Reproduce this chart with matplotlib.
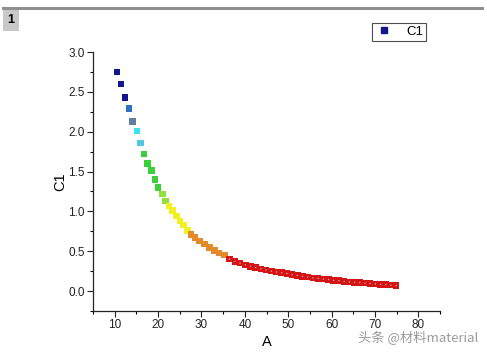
import matplotlib
matplotlib.use("Agg")
import matplotlib.pyplot as plt
from matplotlib.colors import ListedColormap, BoundaryNorm
from matplotlib.lines import Line2D
import numpy as np

plt.rcParams['font.family'] = ['Liberation Sans', 'Noto Sans CJK SC', 'DejaVu Sans']

# Data
A = [10.5, 11.4, 12.4, 13.3, 14.1, 15.1, 15.9, 16.7, 17.6, 18.5, 19.3, 20.0,
     21.0, 21.7, 22.5, 23.3, 24.2, 25.1, 25.9, 26.8, 27.6, 28.5, 29.5, 30.7,
     31.8, 33.0, 34.1, 35.3,
     36.5, 37.7, 38.9, 40.1, 41.3, 42.5, 43.7, 44.9, 46.1, 47.3, 48.5, 49.7,
     50.9, 52.1, 53.3, 54.5, 55.7, 56.9, 58.1, 59.3, 60.5, 61.7, 62.9, 64.1,
     65.3, 66.5, 67.7, 68.9, 70.1, 71.3, 72.5, 73.7, 74.9]
C1 = [2.75, 2.60, 2.43, 2.29, 2.13, 2.01, 1.86, 1.72, 1.60, 1.51, 1.40, 1.30,
      1.22, 1.13, 1.07, 1.01, 0.94, 0.88, 0.83, 0.76, 0.71, 0.67, 0.63, 0.59,
      0.55, 0.51, 0.48, 0.45,
      0.40, 0.37, 0.35, 0.33, 0.31, 0.295, 0.28, 0.265, 0.25, 0.24, 0.23, 0.22,
      0.205, 0.195, 0.185, 0.175, 0.165, 0.16, 0.15, 0.145, 0.135, 0.13, 0.12, 0.115,
      0.11, 0.105, 0.10, 0.095, 0.09, 0.085, 0.08, 0.075, 0.07]

x_ticks = [10, 20, 30, 40, 50, 60, 70, 80]
y_ticks = [0.0, 0.5, 1.0, 1.5, 2.0, 2.5, 3.0]

level_bounds = [0.0, 0.42, 0.74, 1.08, 1.25, 1.78, 1.95, 2.05, 2.2, 2.35, 3.0]
level_colors = ['#d41515', '#e38a2a', '#f2f01e', '#8fe03a', '#3ccf3c', '#52c8e0',
                '#3fe3f0', '#5f7fa0', '#2f74c4', '#14148c']
cmap = ListedColormap(level_colors)
norm = BoundaryNorm(level_bounds, cmap.N)

fig = plt.figure(figsize=(4.87, 3.54), dpi=100)
ax = fig.add_axes([0.191, 0.1215, 0.7125, 0.7315])

ax.scatter(A, C1, c=C1, cmap=cmap, norm=norm, marker='s', s=22,
           edgecolors='none', zorder=3)
# small light centres on the low-value points
Ar = [a for a, c in zip(A, C1) if c < 0.42]
Cr = [c for c in C1 if c < 0.42]
ax.scatter(Ar, Cr, marker='o', s=0.8, color='#f2c8c8', edgecolors='none', zorder=4)

ax.set_xlim(5, 85)
ax.set_ylim(-0.25, 3.0)
ax.set_xticks(x_ticks)
ax.set_yticks(y_ticks)
ax.set_yticklabels([f"{v:.1f}" for v in y_ticks])
ax.set_xticks(np.arange(5, 86, 10), minor=True)
ax.set_yticks(np.arange(-0.25, 3.0, 0.5), minor=True)
ax.tick_params(axis='both', which='major', direction='out', length=4, width=0.8,
               labelsize=8.5, colors='#222222', pad=2)
ax.tick_params(axis='both', which='minor', direction='out', length=2.5, width=0.8)
for s in ['top', 'right']:
    ax.spines[s].set_visible(False)
for s in ['left', 'bottom']:
    ax.spines[s].set_linewidth(0.9)
    ax.spines[s].set_color('#222222')

ax.set_xlabel('A', fontsize=10.5, labelpad=3)
ax.set_ylabel('C1', fontsize=10.5, labelpad=1)

# legend
h = Line2D([], [], marker='s', linestyle='none', color='#14148c', markersize=4.5)
leg = ax.legend([h], ['C1'], loc='upper left', bbox_to_anchor=(0.804, 1.112),
                frameon=True, fancybox=False, fontsize=9.5, handlelength=1.4,
                borderpad=0.2, handletextpad=1.0, borderaxespad=0)
leg.get_frame().set_edgecolor('#222222')
leg.get_frame().set_linewidth(0.8)

# top decoration
fig.add_artist(Line2D([0.006, 0.99], [0.977, 0.977], color='#8f8f8f', lw=2.2,
                      transform=fig.transFigure))
fig.text(0.022, 0.943, '1', fontsize=9, fontweight='bold', ha='center', va='center',
         bbox=dict(boxstyle='square,pad=0.35', fc='#c8c8c8', ec='none'))

# watermark
fig.text(0.982, 0.046, '头条 @材料material', fontsize=9.5, color='#9a9a9a',
         ha='right', va='center', family=['Noto Sans CJK SC', 'DejaVu Sans'])

fig.savefig('out.png', dpi=100)
